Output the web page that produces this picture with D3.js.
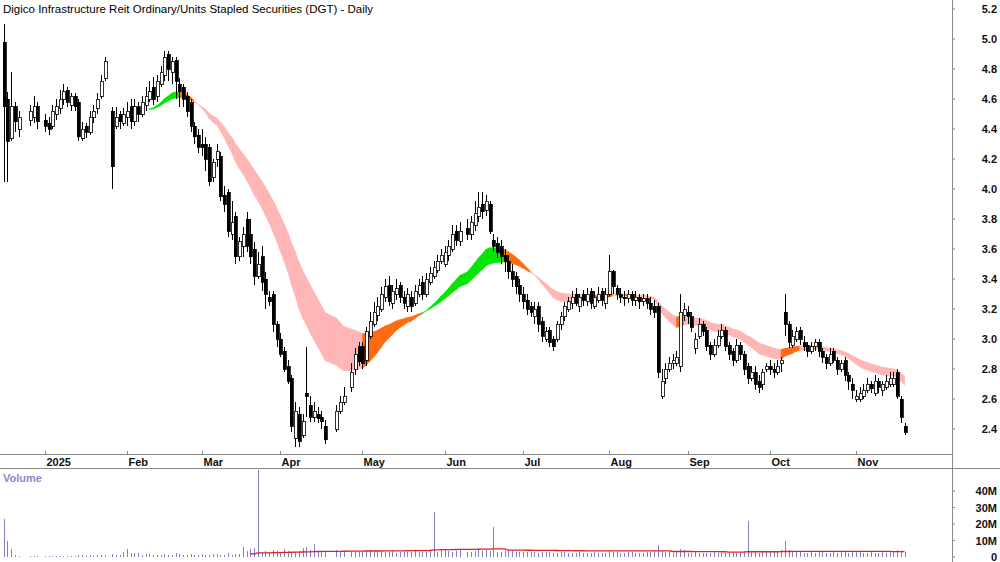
<!DOCTYPE html>
<html>
<head>
<meta charset="utf-8">
<script src="https://cdn.jsdelivr.net/npm/d3@7"></script>
<style>
  body { margin: 0; background: #fff; }
  svg { font-family: Arial, "Liberation Sans", sans-serif; }
</style>
</head>
<body>
<svg id="chart" width="1000" height="562"></svg>
<script>
const title = 'Digico Infrastructure Reit Ordinary/Units Stapled Securities (DGT) - Daily';
const holidays = ['2024-12-25', '2024-12-26', '2025-01-01', '2025-01-27', '2025-04-18', '2025-04-21', '2025-04-25', '2025-06-09'];
const priceTicks = [2.4, 2.6, 2.8, 3.0, 3.2, 3.4, 3.6, 3.8, 4.0, 4.2, 4.4, 4.6, 4.8, 5.0, 5.2];
const volumeTicks = [0, 10, 20, 30, 40];
const monthLabels = ['2025', 'Feb', 'Mar', 'Apr', 'May', 'Jun', 'Jul', 'Aug', 'Sep', 'Oct', 'Nov'];

// daily OHLC, 18 Dec 2024 .. 20 Nov 2025 (one row per month)
const opens = [
  4.98,4.60,4.34,4.55,4.40,4.46,4.48,4.55,
  4.46,4.44,4.42,4.50,4.54,4.60,4.66,4.56,4.62,4.58,4.34,4.42,4.38,4.48,4.54,4.62,4.74,4.52,4.42,4.50,4.44,
  4.48,4.55,4.45,4.55,4.50,4.56,4.60,4.68,4.62,4.70,4.76,4.90,4.78,4.86,4.70,4.68,4.62,4.58,4.42,4.36,
  4.30,4.30,4.28,4.08,4.20,4.22,3.96,3.98,3.70,3.82,3.55,3.62,3.80,3.70,3.60,3.42,3.55,3.40,3.28,3.30,3.10,
  3.00,2.92,2.82,2.74,2.34,2.50,2.36,2.64,2.56,2.48,2.50,2.48,2.42,2.40,2.52,2.58,2.68,2.80,2.95,
  2.95,2.86,3.02,3.10,3.16,3.20,3.28,3.36,3.24,3.30,3.36,3.28,3.22,3.28,3.24,3.30,3.38,3.30,3.38,3.42,3.46,3.52,
  3.50,3.56,3.60,3.72,3.65,3.74,3.70,3.76,3.82,3.90,3.86,3.90,3.66,3.64,3.62,3.56,3.52,3.45,3.42,3.36,
  3.30,3.26,3.22,3.15,3.22,3.12,3.00,3.06,3.00,3.00,3.10,3.15,3.20,3.24,3.30,3.22,3.30,3.25,3.32,3.22,3.26,3.32,3.24,
  3.30,3.45,3.34,3.30,3.28,3.27,3.30,3.26,3.28,3.25,3.27,3.24,3.22,3.22,2.62,2.74,2.80,2.84,2.84,2.82,3.16,
  3.18,3.15,2.94,3.02,3.10,3.06,2.96,2.90,2.96,3.02,3.06,2.96,2.92,2.86,2.96,2.90,2.82,2.74,2.78,2.72,2.70,2.80,
  2.82,2.80,2.78,2.84,3.18,3.10,2.96,3.00,3.06,2.98,2.96,2.92,2.95,2.98,2.92,2.88,2.84,2.92,2.86,2.80,2.86,2.76,2.70,
  2.60,2.60,2.62,2.66,2.70,2.64,2.72,2.66,2.68,2.70,2.70,2.78,2.60,2.42
];
const highs = [
  5.10,4.65,4.78,4.58,4.52,4.56,4.62,4.58,
  4.50,4.48,4.56,4.60,4.66,4.70,4.68,4.64,4.64,4.60,4.45,4.44,4.52,4.56,4.64,4.76,4.88,4.55,4.55,4.52,4.54,
  4.58,4.60,4.60,4.58,4.62,4.68,4.72,4.75,4.76,4.82,4.92,4.92,4.88,4.88,4.74,4.70,4.65,4.60,4.45,4.40,
  4.40,4.35,4.30,4.20,4.30,4.25,4.02,4.00,3.92,3.85,3.68,3.75,3.85,3.80,3.65,3.58,3.62,3.45,3.32,3.32,3.12,
  3.04,2.95,2.86,2.76,2.58,2.55,2.50,2.95,2.62,2.58,2.55,2.52,2.46,2.56,2.62,2.68,2.84,2.94,2.98,
  2.98,3.08,3.18,3.25,3.28,3.35,3.40,3.42,3.36,3.40,3.38,3.32,3.34,3.32,3.36,3.40,3.42,3.44,3.48,3.52,3.56,3.60,
  3.62,3.66,3.76,3.76,3.78,3.80,3.82,3.92,3.98,3.98,3.96,3.92,3.70,3.68,3.66,3.60,3.56,3.50,3.45,3.40,
  3.35,3.30,3.25,3.25,3.25,3.15,3.08,3.08,3.02,3.12,3.18,3.25,3.28,3.32,3.34,3.30,3.33,3.34,3.34,3.32,3.35,3.34,3.34,
  3.56,3.46,3.36,3.34,3.32,3.33,3.32,3.32,3.30,3.30,3.30,3.28,3.26,3.24,2.80,2.84,2.88,2.90,2.92,3.30,3.24,
  3.22,3.18,3.04,3.14,3.12,3.08,2.98,3.00,3.06,3.10,3.08,2.98,2.94,3.00,2.98,2.92,2.84,2.82,2.82,2.76,2.80,2.84,
  2.86,2.84,2.86,2.88,3.30,3.12,3.06,3.08,3.08,3.02,2.98,2.98,3.00,3.00,2.94,2.90,2.94,2.94,2.88,2.86,2.88,2.78,2.74,
  2.66,2.68,2.70,2.74,2.72,2.76,2.74,2.72,2.76,2.78,2.78,2.80,2.62,2.44
];
const lows = [
  4.05,4.05,4.32,4.38,4.35,4.42,4.44,4.40,
  4.38,4.36,4.40,4.46,4.50,4.56,4.55,4.52,4.52,4.32,4.32,4.34,4.36,4.44,4.50,4.60,4.72,4.00,4.40,4.40,4.42,
  4.42,4.40,4.42,4.45,4.48,4.52,4.58,4.56,4.58,4.68,4.72,4.72,4.70,4.60,4.55,4.55,4.48,4.38,4.30,4.24,
  4.22,4.12,4.02,4.05,4.15,3.92,3.85,3.68,3.66,3.50,3.52,3.55,3.58,3.50,3.36,3.40,3.32,3.20,3.22,3.05,2.95,
  2.88,2.78,2.70,2.38,2.28,2.28,2.34,2.48,2.45,2.45,2.44,2.40,2.30,2.38,2.50,2.56,2.65,2.76,2.82,
  2.80,2.82,3.00,3.08,3.12,3.18,3.25,3.22,3.20,3.26,3.24,3.20,3.18,3.18,3.22,3.28,3.26,3.28,3.36,3.40,3.44,3.50,
  3.48,3.52,3.58,3.62,3.62,3.66,3.66,3.72,3.78,3.80,3.82,3.70,3.58,3.54,3.50,3.45,3.40,3.35,3.30,3.25,
  3.20,3.16,3.15,3.10,3.05,2.98,2.98,2.95,2.92,2.98,3.06,3.12,3.18,3.20,3.22,3.18,3.22,3.22,3.20,3.20,3.24,3.22,3.20,
  3.28,3.30,3.26,3.24,3.22,3.24,3.22,3.22,3.20,3.22,3.20,3.16,3.14,2.74,2.60,2.70,2.78,2.80,2.82,2.78,3.12,
  3.10,3.05,2.90,3.00,3.02,2.92,2.86,2.88,2.94,3.00,2.92,2.86,2.82,2.84,2.86,2.76,2.70,2.72,2.66,2.64,2.66,2.78,
  2.76,2.74,2.76,2.78,3.02,2.94,2.94,2.98,2.96,2.92,2.88,2.90,2.92,2.88,2.84,2.80,2.82,2.84,2.76,2.78,2.72,2.66,2.60,
  2.58,2.58,2.60,2.64,2.64,2.62,2.64,2.62,2.66,2.68,2.68,2.60,2.44,2.36
];
const closes = [
  4.55,4.32,4.55,4.45,4.48,4.52,4.55,4.45,
  4.42,4.40,4.52,4.55,4.60,4.65,4.58,4.62,4.55,4.35,4.40,4.38,4.48,4.52,4.60,4.72,4.85,4.15,4.48,4.45,4.50,
  4.52,4.45,4.55,4.50,4.58,4.62,4.65,4.60,4.72,4.78,4.88,4.80,4.85,4.72,4.65,4.60,4.52,4.42,4.35,4.28,
  4.28,4.20,4.05,4.18,4.25,3.95,3.90,3.72,3.78,3.55,3.65,3.70,3.62,3.55,3.42,3.50,3.38,3.30,3.25,3.10,3.00,
  2.90,2.80,2.72,2.42,2.52,2.32,2.45,2.62,2.48,2.52,2.47,2.45,2.33,2.52,2.58,2.62,2.78,2.90,2.85,
  2.84,3.05,3.12,3.18,3.22,3.30,3.35,3.25,3.32,3.34,3.28,3.24,3.30,3.22,3.32,3.36,3.30,3.40,3.44,3.48,3.52,3.56,
  3.58,3.62,3.70,3.66,3.72,3.70,3.78,3.84,3.88,3.85,3.92,3.72,3.62,3.58,3.55,3.52,3.45,3.40,3.35,3.30,
  3.25,3.20,3.18,3.20,3.10,3.02,3.05,2.98,2.95,3.10,3.15,3.22,3.25,3.28,3.24,3.28,3.26,3.30,3.24,3.28,3.30,3.26,3.30,
  3.45,3.35,3.30,3.28,3.27,3.30,3.26,3.28,3.25,3.27,3.24,3.20,3.18,2.78,2.72,2.80,2.84,2.86,2.88,3.18,3.20,
  3.15,3.08,3.00,3.10,3.05,2.95,2.90,2.96,3.02,3.06,2.95,2.90,2.86,2.96,2.90,2.80,2.74,2.78,2.70,2.68,2.78,2.82,
  2.80,2.78,2.82,2.86,3.10,2.98,3.02,3.05,3.00,2.95,2.92,2.95,2.98,2.92,2.88,2.84,2.90,2.86,2.80,2.84,2.76,2.72,2.66,
  2.62,2.64,2.66,2.70,2.67,2.72,2.68,2.70,2.72,2.74,2.74,2.62,2.48,2.38
];
// volume, millions
const volumes = [
  23,10,5,1,0.5,0.4,0.5,0.4,
  0.5,0.6,0.5,0.6,0.7,0.6,0.8,0.7,0.6,1.2,1.0,0.8,1.0,0.9,1.3,1.5,1.4,2.0,1.5,1.2,3.0,
  5.0,2.5,2.3,2.2,1.5,1.8,1.6,1.4,1.5,1.2,2.0,1.1,1.5,2.2,2.0,1.5,1.3,1.6,1.2,1.4,
  1.8,1.2,1.5,2.0,1.6,1.5,1.4,2.2,1.5,1.6,2.0,6.0,3.5,5.0,5.5,53,3.0,3.5,3.0,4.0,3.5,
  3.2,5.0,3.5,3.0,3.2,3.5,5.5,6.0,4.0,8.0,3.5,3.0,3.2,4.0,3.0,2.8,3.5,3.0,3.2,
  3,3.5,4,3.5,3,3.2,2.8,3,3.5,2.5,3,3.2,2.8,3,3.5,3,2.8,3.2,3.5,27,3.2,4,
  4,3.5,3,3.5,4,3,3.2,3.5,4,3.5,4,3.5,18,3.2,3,3.5,4,3.5,3,3.2,
  3,2.8,3,3.2,2.5,3,2.8,3,2.6,2.5,2.8,3,2.5,2.6,2.4,2.8,2.5,2.6,2.5,2.8,2.4,2.6,2.5,
  3.5,3,2.8,2.5,2.6,3,2.8,2.6,2.5,2.6,2.8,3,3.5,7,3.5,3,2.8,2.6,3,5,4,
  2.6,2.5,2.8,2.6,2.5,2.4,2.6,2.8,2.5,2.4,2.6,2.5,2.8,2.6,3,3.5,22,3,2.8,2.6,3,3.2,
  3,2.8,3,4,10,4,3.2,3,2.8,2.6,2.5,2.8,2.6,3,2.8,2.6,2.5,2.8,2.6,3,2.8,2.6,3,
  3,2.8,2.6,2.5,2.8,2.6,2.5,2.8,2.6,3,3.5,4,3.5,3.2
];

// trading days: weekdays from 18 Dec 2024, public holidays left as gaps
const fmt = d3.timeFormat('%Y-%m-%d');
const weekdays = d3.timeDay.range(new Date(2024, 11, 18), new Date(2025, 11, 31))
  .filter(d => d.getDay() !== 0 && d.getDay() !== 6);
const days = [];
weekdays.forEach((d, wi) => {
  if (!holidays.includes(fmt(d)) && days.length < closes.length) days.push({ date: d, wi });
});
const data = days.map((d, i) => ({
  ...d, open: opens[i], high: highs[i], low: lows[i], close: closes[i], volume: volumes[i]
}));

const svg = d3.select('#chart');
const plotRight = 952;
const x = d3.scaleLinear().domain([33, 53]).range([127, 127 + 20 * 3.738]);
const y = d3.scaleLinear().domain([2.4, 5.2]).range([429, 9]);
const yv = d3.scaleLinear().domain([0, 40]).range([557, 491]);

// moving-average ribbon
const ema = (n) => {
  const k = 2 / (n + 1); const out = [];
  closes.forEach((c, i) => out.push(i === 0 ? c : c * k + out[i - 1] * (1 - k)));
  return out;
};
const fast = ema(22), slow = ema(36);
const ribbon = svg.append('g');
for (let i = 36; i < data.length; i++) {
  const rising = slow[i] > slow[i - 1];
  const above = fast[i] > slow[i];
  const color = above ? (rising ? '#00e600' : '#ff6a10') : (rising ? '#ff6a10' : '#ffb5b5');
  const x0 = x(data[i - 1].wi), x1 = x(data[i].wi);
  ribbon.append('path')
    .attr('d', `M${x0},${y(fast[i - 1])}L${x1},${y(fast[i])}L${x1},${y(slow[i])}L${x0},${y(slow[i - 1])}Z`)
    .attr('fill', color).attr('stroke', color).attr('stroke-width', 0.6);
}

// candles
const candles = svg.append('g').attr('shape-rendering', 'crispEdges');
data.forEach(d => {
  const cx = Math.round(x(d.wi)) + 0.5;
  candles.append('line').attr('x1', cx).attr('x2', cx).attr('y1', y(d.high)).attr('y2', y(d.low))
    .attr('stroke', '#000').attr('stroke-width', 1);
  const up = d.close >= d.open;
  const top = y(Math.max(d.open, d.close)), bot = y(Math.min(d.open, d.close));
  candles.append('rect').attr('x', cx - 1.5).attr('y', top).attr('width', 3).attr('height', Math.max(1, bot - top))
    .attr('fill', up ? '#fff' : '#000').attr('stroke', '#000').attr('stroke-width', 0.8);
});

// title
svg.append('text').attr('x', 3).attr('y', 13).attr('font-size', 11.5).attr('fill', '#000').text(title);

// frame lines
const frame = svg.append('g').attr('stroke', '#888').attr('shape-rendering', 'crispEdges');
frame.append('line').attr('x1', 0).attr('x2', plotRight).attr('y1', 454.5).attr('y2', 454.5);
frame.append('line').attr('x1', 0).attr('x2', 1000).attr('y1', 468.5).attr('y2', 468.5);
frame.append('line').attr('x1', plotRight + 0.5).attr('x2', plotRight + 0.5).attr('y1', 0).attr('y2', 562);

// month ticks
const firsts = [];
data.forEach((d, i) => {
  if (i > 0 && d.date.getMonth() !== data[i - 1].date.getMonth()) firsts.push(d);
});
firsts.forEach((d, i) => {
  const tx = Math.round(x(d.wi)) + 0.5;
  svg.append('line').attr('x1', tx).attr('x2', tx).attr('y1', 451).attr('y2', 455)
    .attr('stroke', '#888').attr('shape-rendering', 'crispEdges');
  svg.append('text').attr('x', tx + 1).attr('y', 466).attr('font-size', 11).attr('font-weight', 'bold')
    .attr('fill', '#111').text(monthLabels[i]);
});

// price axis
priceTicks.forEach(t => {
  svg.append('line').attr('x1', plotRight).attr('x2', plotRight + 3).attr('y1', y(t)).attr('y2', y(t)).attr('stroke', '#888');
  svg.append('text').attr('x', 997).attr('y', y(t) + 4).attr('text-anchor', 'end').attr('font-size', 11)
    .attr('font-weight', 'bold').attr('fill', '#111').text(t.toFixed(1));
});

// volume
svg.append('text').attr('x', 3).attr('y', 482).attr('font-size', 11).attr('font-weight', 'bold')
  .attr('fill', '#8a8ac8').text('Volume');
const vol = svg.append('g').attr('shape-rendering', 'crispEdges');
data.forEach(d => {
  const cx = Math.round(x(d.wi)) + 0.5;
  vol.append('line').attr('x1', cx).attr('x2', cx).attr('y1', yv(0)).attr('y2', yv(d.volume))
    .attr('stroke', '#8080c8').attr('stroke-width', 1);
});
const maN = 63;
const volMa = data.map((d, i) => i < maN - 1 ? null : d3.mean(volumes.slice(i - maN + 1, i + 1)));
svg.append('path')
  .datum(data.map((d, i) => [x(d.wi), volMa[i]]))
  .attr('d', d3.line().defined(p => p[1] !== null).x(p => p[0]).y(p => yv(p[1])))
  .attr('fill', 'none').attr('stroke', '#e82020').attr('stroke-width', 1.3);
volumeTicks.forEach(t => {
  svg.append('line').attr('x1', plotRight).attr('x2', plotRight + 3).attr('y1', yv(t)).attr('y2', yv(t)).attr('stroke', '#888');
  svg.append('text').attr('x', 997).attr('y', yv(t) + 4).attr('text-anchor', 'end').attr('font-size', 11)
    .attr('font-weight', 'bold').attr('fill', '#111').text(t === 0 ? '0' : t + 'M');
});
</script>
</body>
</html>
